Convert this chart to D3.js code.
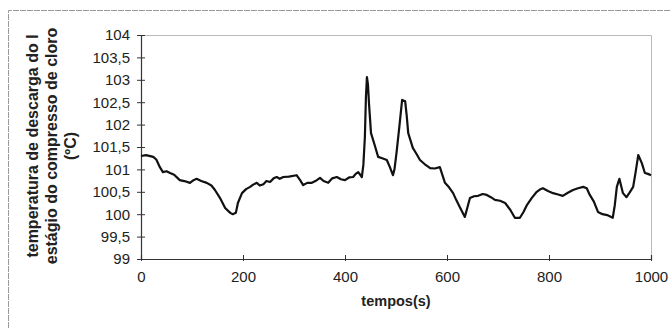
<!DOCTYPE html>
<html>
<head>
<meta charset="utf-8">
<title>temperatura de descarga</title>
<style>
	body { margin: 0; background: #fff; }
	svg { display: block; font-family: "Liberation Sans", Arial, sans-serif; }
	.tick text { font-size: 15px; fill: #222; }
	.tick line { stroke: #333; }
	.domain { stroke: #333; }
	.titulo { font-size: 14.5px; font-weight: bold; fill: #222; }
	.tituloY { font-size: 16px; }
</style>
</head>
<body>
<script src="https://d3js.org/d3.v7.min.js"></script>
<script>

// tempo (s) e temperatura (ºC)
var tempos = [0, 10, 24, 30, 37, 43, 50, 57, 65, 76, 85, 96, 103, 109, 118, 129, 138, 145, 155, 165, 175, 180, 186, 190, 198, 206, 214, 220, 227, 233, 240, 246, 253, 260, 266, 272, 279, 290, 305, 312, 318, 326, 335, 342, 351, 358, 367, 375, 384, 392, 400, 408, 416, 421, 426, 433, 436, 439, 441, 443, 445, 447, 451, 458, 465, 473, 482, 488, 494, 497, 501, 507, 512, 518, 521, 524, 533, 540, 547, 556, 567, 576, 586, 596, 604, 612, 618, 625, 635, 640, 645, 653, 661, 670, 678, 686, 694, 704, 714, 724, 733, 743, 750, 757, 766, 776, 782, 788, 798, 808, 818, 827, 837, 847, 857, 867, 874, 880, 888, 896, 905, 914, 925, 929, 933, 938, 945, 952, 958, 965, 970, 975, 982, 988, 994, 1000];
var temperatura = [101.30, 101.32, 101.28, 101.22, 101.05, 100.94, 100.96, 100.92, 100.88, 100.76, 100.74, 100.70, 100.76, 100.79, 100.74, 100.70, 100.64, 100.54, 100.36, 100.14, 100.03, 100.00, 100.03, 100.25, 100.47, 100.56, 100.61, 100.66, 100.70, 100.64, 100.67, 100.74, 100.72, 100.80, 100.83, 100.79, 100.83, 100.84, 100.87, 100.76, 100.65, 100.70, 100.70, 100.74, 100.81, 100.74, 100.70, 100.80, 100.83, 100.78, 100.76, 100.82, 100.83, 100.90, 100.94, 100.83, 101.10, 101.73, 102.60, 103.06, 102.90, 102.48, 101.81, 101.55, 101.28, 101.25, 101.21, 101.05, 100.87, 101.00, 101.37, 102.00, 102.55, 102.52, 102.20, 101.81, 101.48, 101.35, 101.21, 101.12, 101.03, 101.02, 101.05, 100.70, 100.60, 100.47, 100.32, 100.16, 99.94, 100.15, 100.36, 100.40, 100.41, 100.45, 100.43, 100.38, 100.32, 100.30, 100.25, 100.10, 99.92, 99.92, 100.05, 100.21, 100.36, 100.50, 100.55, 100.58, 100.52, 100.47, 100.44, 100.41, 100.48, 100.54, 100.58, 100.61, 100.58, 100.43, 100.28, 100.05, 100.00, 99.98, 99.92, 100.20, 100.61, 100.79, 100.47, 100.38, 100.48, 100.61, 100.95, 101.32, 101.14, 100.92, 100.90, 100.87];

var yTicks = [99, 99.5, 100, 100.5, 101, 101.5, 102, 102.5, 103, 103.5, 104];
var xTicks = [0, 200, 400, 600, 800, 1000];

var width = 670, height = 328;
var margin = { left: 141, right: 19, top: 35, bottom: 69 };

var svg = d3.select("body").append("svg")
	.attr("width", width)
	.attr("height", height);

// moldura externa
svg.append("path")
	.attr("d", "M8.5," + height + "V10.5H" + width)
	.attr("fill", "none")
	.attr("stroke", "#9a9a9a")
	.attr("stroke-dasharray", "6,1");

var x = d3.scaleLinear().domain([0, 1000]).range([margin.left, width - margin.right]);
var y = d3.scaleLinear().domain([99, 104]).range([height - margin.bottom, margin.top]);

// borda da área do gráfico
svg.append("path")
	.attr("d", "M" + x(0) + "," + (y(104) + 0.5) + "H" + (x(1000) + 0.5) + "V" + y(99))
	.attr("fill", "none")
	.attr("stroke", "#b8b8b8");

var fmt = function(d) { return String(d).replace(".", ","); };

svg.append("g")
	.attr("transform", "translate(" + x(0) + ",0)")
	.call(d3.axisLeft(y).tickValues(yTicks).tickFormat(fmt).tickSize(4).tickPadding(7))
	.call(function(g) { g.selectAll(".tick line").attr("x2", 4).attr("x1", -4); });

svg.append("g")
	.attr("transform", "translate(0," + y(99) + ")")
	.call(d3.axisBottom(x).tickValues(xTicks).tickFormat(d3.format("d")).tickSize(-4).tickPadding(12))
	.call(function(g) { g.selectAll(".tick line").attr("y1", 2); });

svg.selectAll(".domain").attr("stroke-width", 1.2);

var line = d3.line()
	.x(function(d, i) { return x(tempos[i]); })
	.y(function(d) { return y(d); });

svg.append("path")
	.datum(temperatura)
	.attr("d", line)
	.attr("fill", "none")
	.attr("stroke", "#111")
	.attr("stroke-width", 2.2)
	.attr("stroke-linejoin", "round");

// títulos
svg.append("text")
	.attr("class", "titulo")
	.attr("x", (x(0) + x(1000)) / 2)
	.attr("y", 306)
	.attr("text-anchor", "middle")
	.text("tempos(s)");

var tituloY = ["temperatura de descarga do I", "estágio do compresso de cloro", "(ºC)"];
svg.append("text")
	.attr("class", "titulo tituloY")
	.attr("transform", "translate(38,146) rotate(-90)")
	.attr("text-anchor", "middle")
	.selectAll("tspan")
	.data(tituloY)
	.enter().append("tspan")
	.attr("x", 0)
	.attr("dy", function(d, i) { return i == 0 ? 0 : 19; })
	.text(function(d) { return d; });

</script>
</body>
</html>
